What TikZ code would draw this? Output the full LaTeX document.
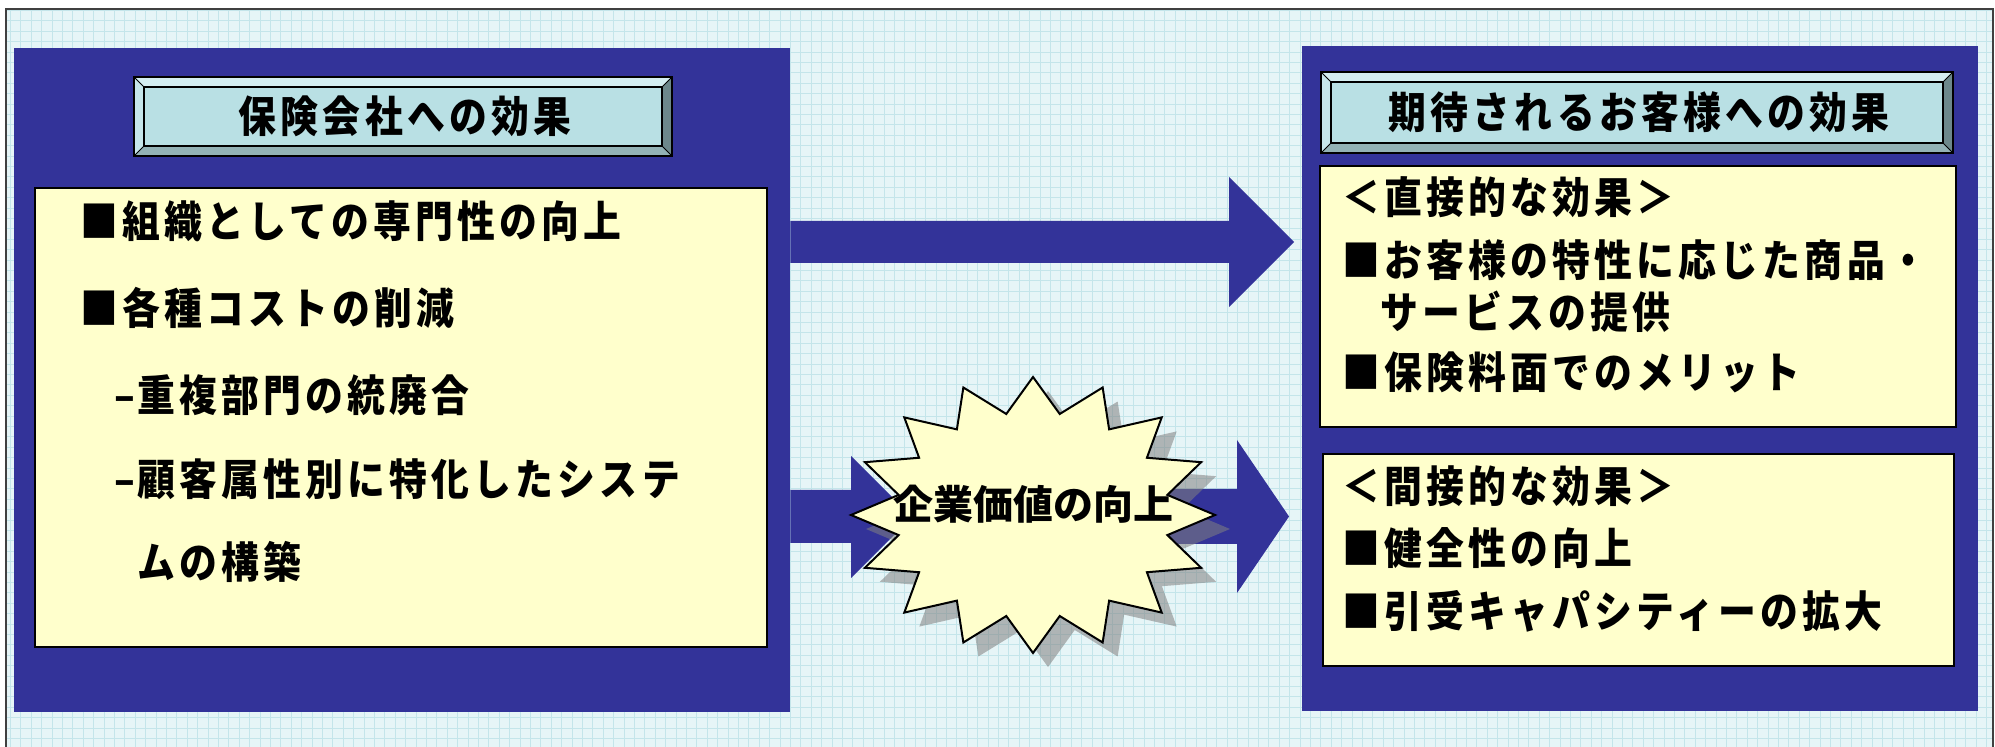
\documentclass[tikz,border=0pt]{standalone}
\usepackage{fontspec}
\setmainfont{Noto Sans CJK JP}
\newfontfamily\jpcond{Noto Sans CJK JP}[FakeStretch=0.88, LetterSpace=9.8]
\usetikzlibrary{fit}
\definecolor{bgc}{HTML}{E6F5F7}
\definecolor{gridc}{HTML}{C4E5EA}
\definecolor{panelc}{HTML}{333399}
\definecolor{notec}{HTML}{FFFFCC}
\definecolor{facec}{HTML}{B9E0E4}
\definecolor{bevT}{HTML}{D4EEF1}
\definecolor{bevL}{HTML}{C6E6EA}
\definecolor{bevB}{HTML}{93B2B5}
\definecolor{bevR}{HTML}{6D888B}
\newcommand\bevelbox[5]{%
 \node[fit={(#1,#2) (#3,#4)}, inner sep=0pt, fill=facec] (#5) {};
 \fill[bevT] (#1,#2) -- (#3,#2) -- ({#3-10},{#2+10}) -- ({#1+10},{#2+10}) -- cycle;
 \fill[bevB] (#1,#4) -- (#3,#4) -- ({#3-10},{#4-10}) -- ({#1+10},{#4-10}) -- cycle;
 \fill[bevL] (#1,#2) -- ({#1+10},{#2+10}) -- ({#1+10},{#4-10}) -- (#1,#4) -- cycle;
 \fill[bevR] (#3,#2) -- ({#3-10},{#2+10}) -- ({#3-10},{#4-10}) -- (#3,#4) -- cycle;
 \draw[line width=0.8pt] (#1,#2) rectangle (#3,#4);
 \draw[line width=0.6pt] ({#1+10},{#2+10}) rectangle ({#3-10},{#4-10});
 \draw[line width=0.5pt] (#1,#2) -- ({#1+10},{#2+10}) (#3,#2) -- ({#3-10},{#2+10})
   (#1,#4) -- ({#1+10},{#4-10}) (#3,#4) -- ({#3-10},{#4-10});
}
\tikzset{
 panelbox/.style={inner sep=0pt, fill=panelc},
 notebox/.style={inner sep=0pt, fill=notec, draw=black, line width=1pt},
 arrowfill/.style={fill=panelc},
 txt/.style={anchor=base west, inner sep=0pt, font=\jpcond\fontsize{21.5pt}{25pt}\selectfont\bfseries},
 ttl/.style={anchor=base, inner sep=0pt, font=\jpcond\fontsize{21.5pt}{25pt}\selectfont\bfseries},
 startxt/.style={anchor=base, inner sep=0pt, font=\fontsize{20pt}{24pt}\selectfont\bfseries},
 starburst/.pic={\path[pic actions] (90:182 and 138)
   \foreach \k [evaluate=\k as \rx using {ifthenelse(mod(\k,2)==0,182,137)},
                evaluate=\k as \ry using {ifthenelse(mod(\k,2)==0,138,103)},
                evaluate=\k as \ang using {90-\k*11.25}] in {1,...,31}
   { -- (\ang:{\rx} and {\ry}) } -- cycle;}
}
\begin{document}
\begin{tikzpicture}[x=0.5pt,y=-0.5pt]
\useasboundingbox (0,0) rectangle (1995,747);
\fill[white] (0,0) rectangle (1995,747);
% background grid
\fill[bgc] (6,9) rectangle (1993,747);
\draw[gridc, line width=0.4pt, xstep=5.2pt, ystep=5.2pt] (6,9) grid (1993,747);
\draw[black!75, line width=0.8pt] (6,747) -- (6,9) -- (1993,9) -- (1993,747);
% panels
\node[panelbox, fit={(14,48) (790,712)}] (L) {};
\node[panelbox, fit={(1302,46) (1978,711)}] (R) {};
% block arrows
\coordinate (a1) at (L.east |- 0,242);
\fill[arrowfill] (a1) ++(0,-21) -- (1229,221) -- (1229,177) -- (1294,242) -- (1229,307) -- (1229,263) -- (L.east |- 0,263) -- cycle;
\coordinate (a2) at (L.east |- 0,517);
\fill[arrowfill] (a2) ++(0,-27) -- (851,490) -- (851,456) -- (912,517) -- (851,578) -- (851,543) -- (L.east |- 0,543) -- cycle;
\fill[arrowfill] (1100,489) -- (1237,489) -- (1237,440) -- (1289,516.5) -- (1237,593) -- (1237,544) -- (1100,544) -- cycle;
% star
\pic[fill=gray, opacity=0.55] at (1048,529) {starburst};
\pic[draw=black, line width=1pt, fill=notec] at (1033,515) {starburst};
\node[inner sep=0pt] (star) at (1033,515) {};
\node[startxt] at (1033,520) {企業価値の向上};
% titles
\bevelbox{134}{77}{672}{156}{LT}
\node[ttl] at (405,133) {保険会社への効果};
\bevelbox{1321}{72}{1953}{153}{RT}
\node[ttl] at (1639,129) {期待されるお客様への効果};
% note boxes
\node[notebox, fit={(35,188) (767,647)}] (LY) {};
\node[notebox, fit={(1320,166) (1956,427)}] (RY1) {};
\node[notebox, fit={(1323,454) (1954,666)}] (RY2) {};
% left texts
\node[txt] at (80,238) {■組織としての専門性の向上};
\node[txt] at (80,325) {■各種コストの削減};
\node[txt] at (114,412) {\makebox[11.5pt][l]{–}重複部門の統廃合};
\node[txt] at (114,496) {\makebox[11.5pt][l]{–}顧客属性別に特化したシステ};
\node[txt] at (137,579) {ムの構築};
% right texts
\node[txt] at (1342,214) {＜直接的な効果＞};
\node[txt] at (1342,277) {■お客様の特性に応じた商品・};
\node[txt] at (1380,329) {サービスの提供};
\node[txt] at (1342,389) {■保険料面でのメリット};
\node[txt] at (1342,503) {＜間接的な効果＞};
\node[txt] at (1342,565) {■健全性の向上};
\node[txt] at (1342,627) {■引受キャパシティーの拡大};
\end{tikzpicture}
\end{document}
